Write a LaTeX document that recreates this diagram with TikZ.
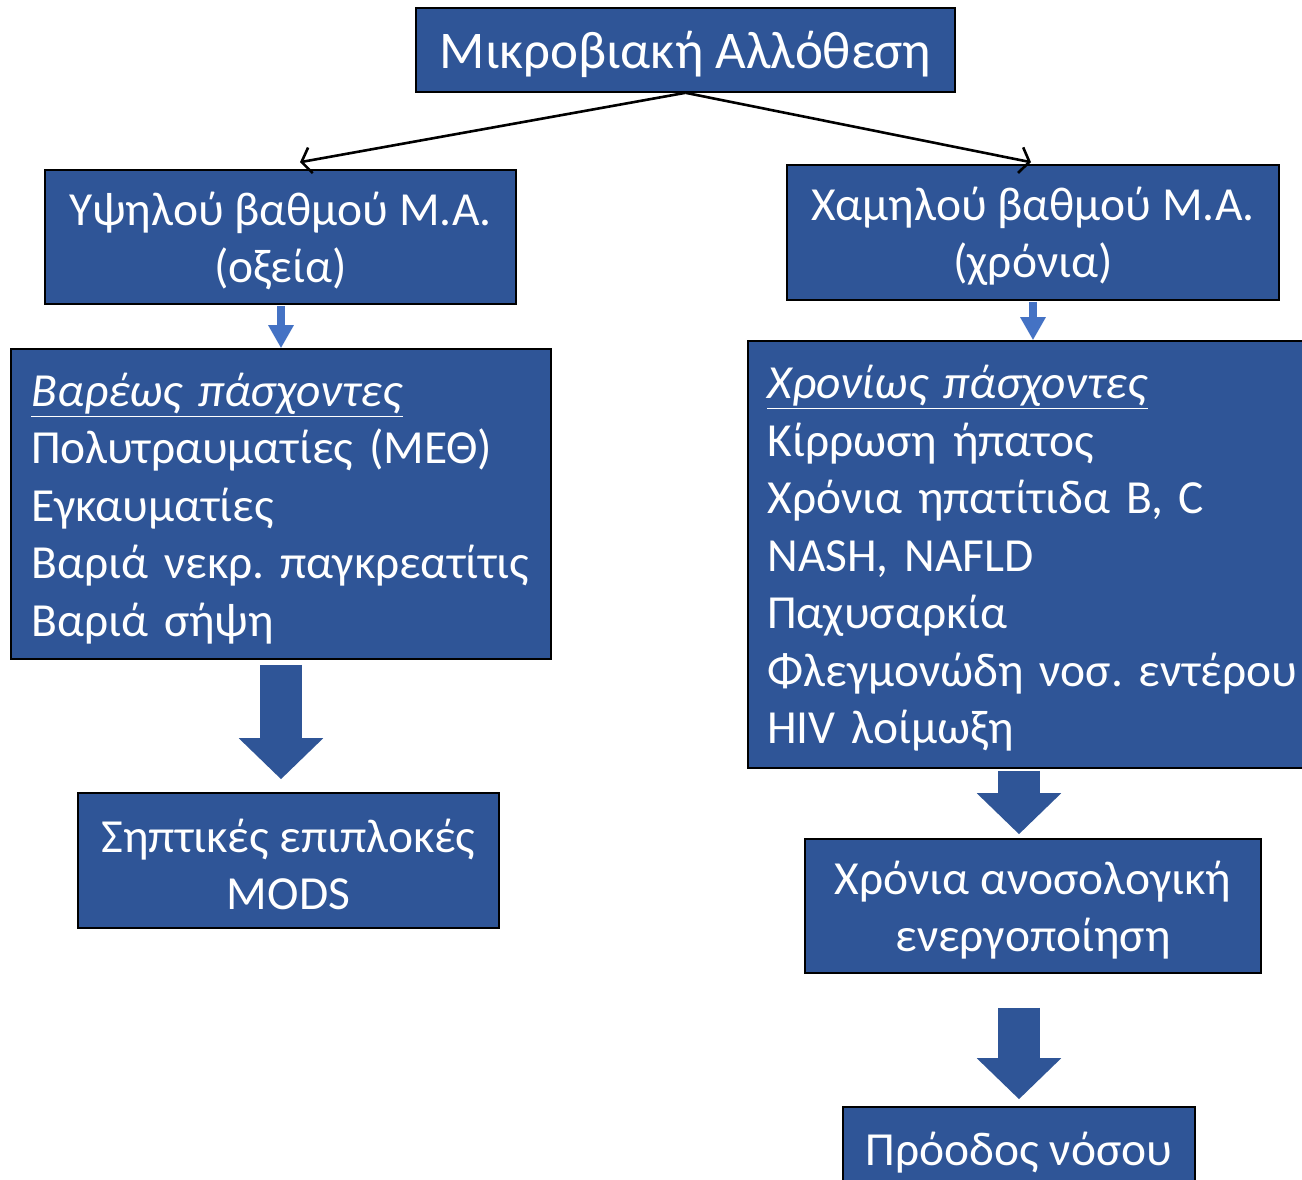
\documentclass[tikz,border=0pt]{standalone}
\usepackage{fontspec}
\setmainfont{Carlito}
\usetikzlibrary{arrows.meta}
\definecolor{boxblue}{HTML}{2F5597}
\definecolor{arrblue}{HTML}{4472C4}
\frenchspacing
\tikzset{
  box/.style={draw=black, line width=1.6pt, fill=boxblue, inner sep=0pt},
  txt/.style={text=white, inner sep=0pt, font=\fontsize{47.5}{57.5}\selectfont},
  ltxt/.style={txt, align=left, text width=#1},
  ctxt/.style={txt, align=center},
  thin arrow/.style={black, line width=2.6pt, -{Straight Barb[length=9pt,width=26pt,line width=2.6pt]}},
  small arrow/.style={arrblue, line width=8pt, -{Triangle[length=23pt,width=24pt]}},
  big arrow/.style={boxblue, line width=42pt, -{Triangle[length=41pt,width=82pt]}}
}
\begin{document}
\begin{tikzpicture}[x=1pt,y=-1pt]
\clip (0,0) rectangle (1302,1179);
\fill[white] (0,0) rectangle (1302,1179);
% boxes
\node[box, minimum width=539pt, minimum height=84pt] (top) at (685.5,50) {};
\node[box, minimum width=471pt, minimum height=134pt] (l2) at (280.5,237) {};
\node[box, minimum width=492pt, minimum height=135pt] (r2) at (1033,232.5) {};
\node[box, minimum width=540pt, minimum height=310pt] (l3) at (281,504) {};
\node[box, minimum width=562pt, minimum height=427pt] (r3) at (1029,554.5) {};
\node[box, minimum width=421pt, minimum height=135pt] (l4) at (288.5,860.5) {};
\node[box, minimum width=456pt, minimum height=134pt] (r4) at (1033,906) {};
\node[box, minimum width=352pt, minimum height=83pt] (r5) at (1019,1148.5) {};
% texts
\node[ctxt, font=\fontsize{53}{60}\selectfont] (topt) at ([yshift=-4pt]top.center) {Μικροβιακή Αλλόθεση};
\node[ctxt] (l2t) at ([yshift=-4pt]l2.center) {Υψηλού βαθμού Μ.Α.\\(οξεία)};
\node[ctxt] (r2t) at ([yshift=-4pt]r2.center) {Χαμηλού βαθμού Μ.Α.\\(χρόνια)};
\node[ltxt=498pt, anchor=west] (l3t) at ([xshift=21pt,yshift=-4.5pt]l3.west)
  {\underline{\textit{Βαρέως πάσχοντες}}\\Πολυτραυματίες (ΜΕΘ)\\Εγκαυματίες\\Βαριά νεκρ. παγκρεατίτις\\Βαριά σήψη};
\node[ltxt=500pt, anchor=west] (r3t) at ([xshift=20pt,yshift=-4pt]r3.west)
  {\underline{\textit{Χρονίως πάσχοντες}}\\Κίρρωση ήπατος\\Χρόνια ηπατίτιδα Β, C\\NASH, NAFLD\\Παχυσαρκία\\\leavevmode\rlap{Φλεγμονώδη νοσ. εντέρου}\\HIV λοίμωξη};
\node[ctxt] (l4t) at ([yshift=-4pt]l4.center) {Σηπτικές επιπλοκές\\MODS};
\node[ctxt] (r4t) at ([yshift=-4pt]r4.center) {Χρόνια ανοσολογική\\ενεργοποίηση};
\node[ctxt] (r5t) at ([yshift=-4pt]r5.center) {Πρόοδος νόσου};
\coordinate (ax) at (1019,0);
% connectors
\draw[thin arrow] (top.south) -- ([xshift=19.5pt,yshift=7pt]l2.north);
\draw[thin arrow] (top.south) -- ([xshift=-2pt,yshift=2pt]r2.north);
\draw[small arrow] ([xshift=0.5pt,yshift=-1pt]l2.south) -- ([xshift=0.5pt]l2.south |- l3.north);
\draw[small arrow] ([yshift=-1pt]r2.south) -- (r2.south |- r3.north);
\draw[big arrow] ([yshift=-5pt]l3.south) -- ([yshift=13pt]l3.south |- l4.north);
\draw[big arrow] ([yshift=-2pt]ax |- r3.south) -- ([yshift=4pt]ax |- r4.north);
\draw[big arrow] ([yshift=-34pt]ax |- r4.south) -- ([yshift=7pt]ax |- r5.north);
\end{tikzpicture}
\end{document}
